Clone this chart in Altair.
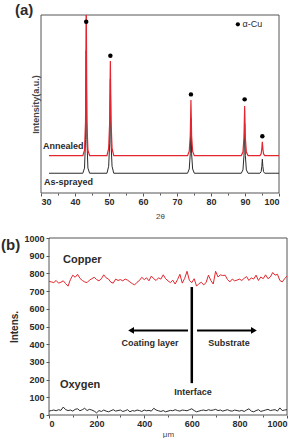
import altair as alt
import pandas as pd

FONT = "Liberation Sans"
RED = "#e3262e"
INK = "#2b2b2b"
FRAME = "#555555"

# ---- (a) XRD patterns: 2-theta (deg) vs intensity (a.u.) ----
annealed_2theta = [30, 42.3, 42.8, 43.1, 43.3, 43.5, 43.8, 44.3,
                   49.4, 49.9, 50.2, 50.4, 50.6, 50.9, 51.4,
                   73.1, 73.6, 73.9, 74.1, 74.3, 74.6, 75.1,
                   88.9, 89.4, 89.7, 89.9, 90.1, 90.4, 90.9,
                   94.4, 94.75, 94.95, 95.1, 95.25, 95.45, 95.8, 100]
annealed_int = [21, 21, 24, 40, 112, 40, 24, 21,
                21, 25, 40, 74.2, 40, 25, 21,
                21, 23.5, 32, 52.2, 32, 23.5, 21,
                21, 23, 31, 48.9, 31, 23, 21,
                21, 22, 25, 28.8, 25, 22, 21, 21]
sprayed_2theta = annealed_2theta
sprayed_int = [11.1, 11.1, 14, 30, 80, 30, 14, 11.1,
               11.1, 15, 28, 64, 28, 15, 11.1,
               11.1, 13.5, 22, 42, 22, 13.5, 11.1,
               11.1, 13, 21, 39, 21, 13, 11.1,
               11.1, 12, 15, 19, 15, 12, 11.1, 11.1]
cu_peak_2theta = [43.3, 50.4, 74.1, 89.9, 95.1]
cu_marker_int = [96.2, 77.1, 55.4, 52.6, 31.9]

# ---- (b) line scan across the interface ----
scan_um = list(range(0, 1001, 10))
copper = [755, 752, 748, 760, 745, 750, 758, 742, 728, 765,
          790, 778, 795, 772, 760, 752, 748, 762, 770, 778,
          765, 758, 770, 792, 775, 768, 750, 745, 768, 760,
          765, 758, 768, 762, 752, 742, 735, 750, 760, 778,
          765, 775, 758, 785, 770, 760, 775, 768, 792, 770,
          758, 748, 762, 740, 765, 795, 745, 772, 812, 760,
          748, 770, 728, 742, 750, 735, 748, 790, 760, 740,
          812, 780, 792, 788, 790, 765, 752, 768, 758, 762,
          768, 760, 772, 782, 760, 775, 768, 790, 760, 780,
          770, 792, 770, 780, 805, 790, 795, 760, 752, 770,
          785]
oxygen = [22, 25, 28, 24, 30, 26, 45, 30, 25, 28,
          22, 32, 35, 24, 30, 38, 25, 32, 28, 22,
          12, 25, 20, 28, 22, 18, 24, 30, 22, 25,
          28, 20, 24, 30, 18, 25, 22, 28, 25, 20,
          28, 24, 26, 22, 38, 28, 24, 20, 25, 18,
          22, 26, 24, 30, 25, 22, 28, 26, 24, 30,
          35, 25, 18, 22, 26, 28, 24, 30, 26, 28,
          32, 25, 28, 22, 26, 30, 24, 22, 28, 25,
          22, 26, 20, 28, 35, 22, 18, 25, 30, 20,
          24, 28, 32, 25, 28, 30, 22, 40, 25, 28,
          30]

# ---------------- panel (a) ----------------
xa = alt.X("theta:Q",
           scale=alt.Scale(domain=[30, 100], range=[-8, 230], nice=False, zero=False),
           axis=alt.Axis(values=list(range(30, 101, 5)),
                         labelExpr="datum.value % 10 === 0 ? datum.label : ''",
                         tickSize={"condition": {"test": "datum.value % 10 === 0", "value": 3}, "value": 2},
                         domain=False, grid=False, tickColor=FRAME,
                         labelFont=FONT, labelFontSize=9, labelFontWeight="bold",
                         labelColor=INK, labelPadding=1,
                         title="2θ", titleFont=FONT, titleFontSize=8,
                         titleFontWeight="normal", titleColor="#444", titlePadding=6))
ya = alt.Y("int:Q",
           scale=alt.Scale(domain=[0, 100], nice=False),
           axis=alt.Axis(labels=False, ticks=False, domain=False, grid=False, offset=8,
                         title="Intensity(a.u.)", titleFont=FONT, titleFontSize=9,
                         titleFontWeight="bold", titleColor="#444", titlePadding=1))

frame_a = pd.DataFrame({"theta": [30], "theta2": [100], "int": [0], "int2": [100]})
xrd_red = pd.DataFrame({"theta": annealed_2theta, "int": annealed_int})
xrd_blk = pd.DataFrame({"theta": sprayed_2theta, "int": sprayed_int})
markers = pd.DataFrame({"theta": cu_peak_2theta, "int": cu_marker_int})
labels_a = pd.DataFrame({"theta": [30.6, 30.9], "int": [26.4, 6.2],
                         "txt": ["Annealed", "As-sprayed"]})
legend_dot = pd.DataFrame({"theta": [87.9], "int": [94.8]})
legend_txt = pd.DataFrame({"theta": [89.3], "int": [94.8], "txt": ["α-Cu"]})

frame_layer_a = alt.Chart(frame_a).mark_rect(fillOpacity=0, stroke=FRAME, strokeWidth=1).encode(
    x=xa, x2="theta2:Q", y=ya, y2="int2:Q")
blk_line = alt.Chart(xrd_blk).mark_line(color=INK, strokeWidth=1, clip=True).encode(x=xa, y=ya)
red_line = alt.Chart(xrd_red).mark_line(color=RED, strokeWidth=1.2, clip=True).encode(x=xa, y=ya)
dots = alt.Chart(markers).mark_point(filled=True, color="black", size=20, opacity=1).encode(x=xa, y=ya)
txt_a = alt.Chart(labels_a).mark_text(align="left", baseline="middle", font=FONT, fontSize=9,
                                       fontWeight="bold", color=INK).encode(x=xa, y=ya, text="txt:N")
leg_dot = alt.Chart(legend_dot).mark_point(filled=True, color="black", size=18, opacity=1).encode(x=xa, y=ya)
leg_txt = alt.Chart(legend_txt).mark_text(align="left", baseline="middle", font=FONT, fontSize=9,
                                           color=INK).encode(x=xa, y=ya, text="txt:N")
tag_a = alt.Chart(pd.DataFrame({"t": ["(a)"]})).mark_text(
    align="left", baseline="middle", font=FONT, fontSize=15, fontWeight="bold", color=INK
).encode(x=alt.value(-34), y=alt.value(-5), text="t:N")

panel_a = alt.layer(frame_layer_a, blk_line, red_line, dots, txt_a, leg_dot, leg_txt, tag_a).properties(
    width=230, height=178)

# ---------------- panel (b) ----------------
xb = alt.X("um:Q",
           scale=alt.Scale(domain=[0, 1000], nice=False),
           axis=alt.Axis(values=list(range(0, 1001, 100)),
                         labelExpr="datum.value % 200 === 0 ? datum.label : ''",
                         tickSize={"condition": {"test": "datum.value % 200 === 0", "value": 3}, "value": 2},
                         domain=False, grid=False, tickColor=FRAME, format="d",
                         labelFont=FONT, labelFontSize=9, labelFontWeight="bold",
                         labelColor=INK, labelPadding=1,
                         title="μm", titleFont=FONT, titleFontSize=8,
                         titleFontWeight="normal", titleColor="#444", titlePadding=2))
yb = alt.Y("val:Q",
           scale=alt.Scale(domain=[0, 1000], nice=False),
           axis=alt.Axis(values=list(range(0, 1001, 100)), format="d",
                         domain=False, grid=False, tickColor=FRAME, tickSize=3,
                         labelFont=FONT, labelFontSize=9, labelFontWeight="bold",
                         labelColor=INK, labelPadding=2,
                         title="Intens.", titleFont=FONT, titleFontSize=10,
                         titleFontWeight="bold", titleColor=INK, titlePadding=4))

frame_b = pd.DataFrame({"um": [0], "um2": [1000], "val": [0], "val2": [1000]})
cu_df = pd.DataFrame({"um": scan_um, "val": copper})
o_df = pd.DataFrame({"um": scan_um, "val": oxygen})
elem_labels = pd.DataFrame({"um": [59, 46], "val": [875, 168], "txt": ["Copper", "Oxygen"]})
region_labels = pd.DataFrame({"um": [424, 756, 605], "val": [405, 405, 128],
                              "txt": ["Coating layer", "Substrate", "Interface"]})
interface = pd.DataFrame({"um": [600], "val": [180], "val2": [723]})
arrows = pd.DataFrame({"um": [584, 622], "um2": [350, 856], "val": [478, 478]})
heads = pd.DataFrame({"um": [345, 861], "val": [478, 478], "shape": ["triangle-left", "triangle-right"]})

frame_layer_b = alt.Chart(frame_b).mark_rect(fillOpacity=0, stroke=FRAME, strokeWidth=1).encode(
    x=xb, x2="um2:Q", y=yb, y2="val2:Q")
cu_line = alt.Chart(cu_df).mark_line(color=RED, strokeWidth=1).encode(x=xb, y=yb)
o_line = alt.Chart(o_df).mark_line(color=INK, strokeWidth=1).encode(x=xb, y=yb)
elem_txt = alt.Chart(elem_labels).mark_text(align="left", baseline="middle", font=FONT, fontSize=11,
                                             fontWeight="bold", color=INK).encode(x=xb, y=yb, text="txt:N")
region_txt = alt.Chart(region_labels).mark_text(align="center", baseline="middle", font=FONT, fontSize=9,
                                                 fontWeight="bold", color=INK).encode(x=xb, y=yb, text="txt:N")
iface = alt.Chart(interface).mark_rule(color="black", strokeWidth=2.5).encode(x=xb, y=yb, y2="val2:Q")
arrow_lines = alt.Chart(arrows).mark_rule(color="black", strokeWidth=2).encode(x=xb, x2="um2:Q", y=yb)
arrow_heads = alt.Chart(heads).mark_point(filled=True, color="black", size=45, opacity=1).encode(
    x=xb, y=yb, shape=alt.Shape("shape:N", scale=None))
tag_b = alt.Chart(pd.DataFrame({"t": ["(b)"]})).mark_text(
    align="left", baseline="middle", font=FONT, fontSize=15, fontWeight="bold", color=INK
).encode(x=alt.value(-48), y=alt.value(7), text="t:N")

panel_b = alt.layer(frame_layer_b, cu_line, o_line, elem_txt, region_txt, iface,
                    arrow_lines, arrow_heads, tag_b).properties(width=238, height=177)

chart = alt.vconcat(panel_a, panel_b, spacing=14).properties(
    padding={"left": 1, "top": 3, "right": 0, "bottom": 0},
    background="white",
).configure_view(strokeWidth=0)

chart.save("out.html", embed_options={"renderer": "svg", "actions": False})
